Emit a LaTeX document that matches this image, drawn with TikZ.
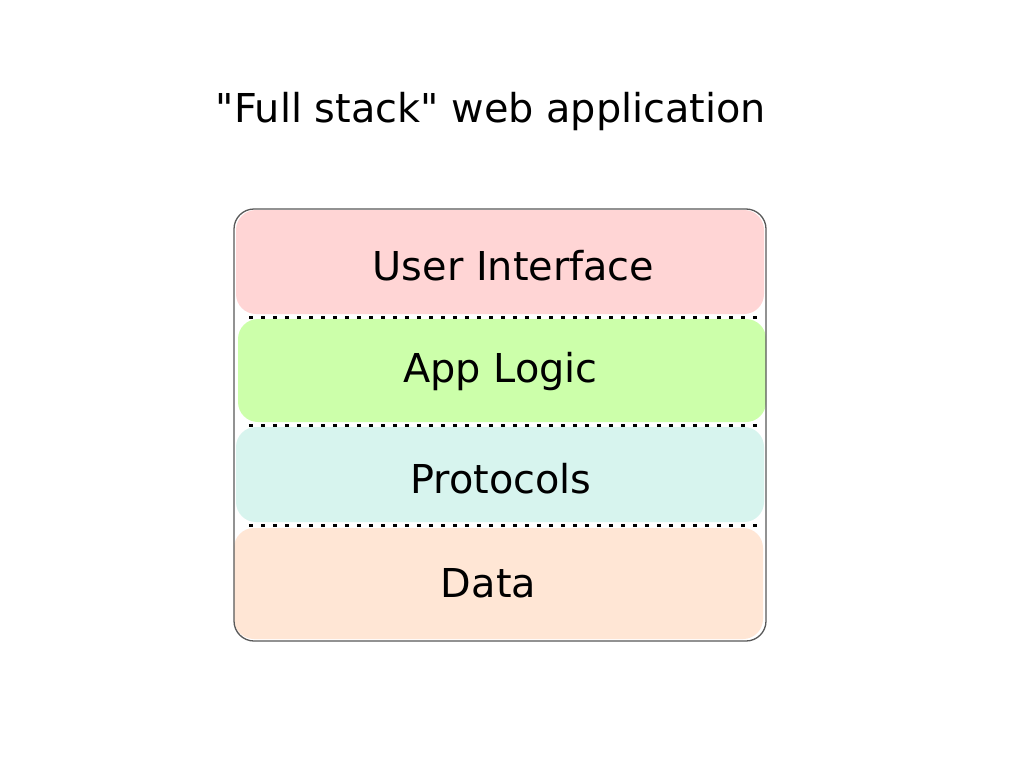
\documentclass[tikz,border=0pt]{standalone}
\usepackage{fontspec}
\setmainfont{DejaVu Sans}[Ligatures=TeXOff]
\definecolor{uipink}{HTML}{FFD5D5}
\definecolor{appgreen}{HTML}{CCFFAA}
\definecolor{protocyan}{HTML}{D7F4EE}
\definecolor{datapeach}{HTML}{FFE6D5}
\tikzset{
  layer/.style={rectangle, rounded corners=20pt, draw=none, inner sep=0pt, outer sep=0pt},
  label text/.style={font=\fontsize{39.8}{48}\selectfont, anchor=base, inner sep=0pt, text=black},
  separator/.style={line width=3pt, dash pattern=on 3.5pt off 8.5pt},
  frame/.style={draw=black!65, line width=1.3pt, rounded corners=20pt}
}
\begin{document}
\begin{tikzpicture}[x=1pt, y=-1pt]
  \useasboundingbox[fill=white] (0,0) rectangle (1024,768);
  % title
  \node[label text] (title) at (491,122) {"Full stack" web application};
  % layers
  \node[layer, fill=uipink, minimum width=528pt, minimum height=104pt] (ui) at (500,262) {};
  \node[layer, fill=appgreen, minimum width=528pt, minimum height=103pt] (app) at (502,370.5) {};
  \node[layer, fill=protocyan, minimum width=528pt, minimum height=95pt] (proto) at (500,474.5) {};
  \node[layer, fill=datapeach, minimum width=529pt, minimum height=111pt] (data) at (498.5,583.5) {};
  % separators
  \coordinate (s1a) at (249,317);   \coordinate (s1b) at (757,317);
  \coordinate (s2a) at (249,425.3); \coordinate (s2b) at (757,425.3);
  \coordinate (s3a) at (249,525.5); \coordinate (s3b) at (757,525.5);
  \draw[separator] (s1a) -- (s1b);
  \draw[separator] (s2a) -- (s2b);
  \draw[separator] (s3a) -- (s3b);
  % texts
  \node[label text] (uit) at (513.5,280.5) {User Interface};
  \node[label text] (appt) at (500.5,382) {App Logic};
  \node[label text] (protot) at (501,493.3) {Protocols};
  \node[label text] (datat) at (488.5,597) {Data};
  % outer frame
  \coordinate (fa) at (234,209);
  \coordinate (fb) at (766,641);
  \draw[frame] (fa) rectangle (fb);
\end{tikzpicture}
\end{document}
